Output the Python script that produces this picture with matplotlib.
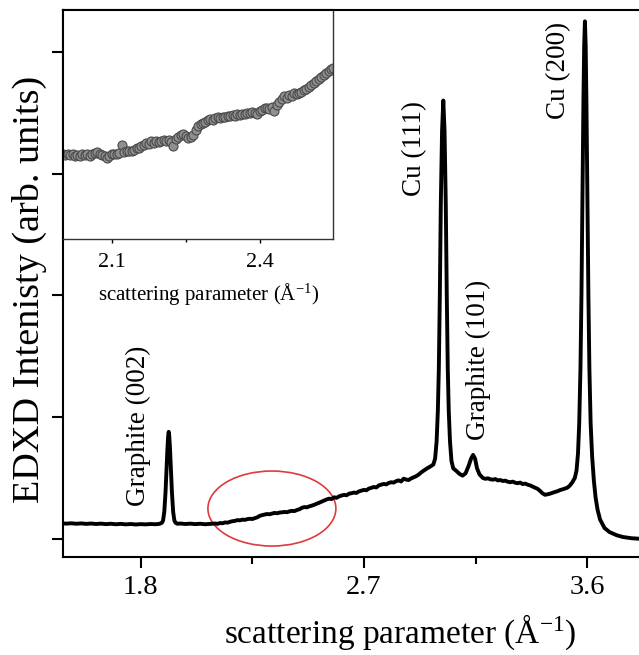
import numpy as np
import matplotlib.pyplot as plt
from matplotlib.patches import Ellipse

plt.rcParams["font.family"] = ["Liberation Serif", "DejaVu Serif"]
plt.rcParams["mathtext.fontset"] = "custom"
plt.rcParams["mathtext.rm"] = "Liberation Serif"
plt.rcParams["mathtext.it"] = "Liberation Serif:italic"

# main EDXD spectrum (scattering parameter in 1/A, intensity in arb. units)
q = [
    1.486, 1.50, 1.52, 1.54, 1.56, 1.58, 1.60, 1.62, 1.64, 1.66, 1.68, 1.70,
    1.72, 1.74, 1.76, 1.78, 1.80, 1.82, 1.84, 1.86, 1.875, 1.885, 1.890,
    1.895, 1.900, 1.904, 1.908, 1.911, 1.913, 1.915, 1.918, 1.922, 1.926,
    1.931, 1.936, 1.941, 1.948, 1.96, 1.98, 2.00, 2.02, 2.04, 2.06, 2.08,
    2.10, 2.11, 2.12, 2.13, 2.14, 2.15, 2.16, 2.17, 2.18, 2.19, 2.20, 2.21,
    2.22, 2.23, 2.24, 2.25, 2.26, 2.27, 2.28, 2.29, 2.30, 2.31, 2.32, 2.33,
    2.34, 2.35, 2.36, 2.37, 2.38, 2.39, 2.40, 2.41, 2.42, 2.43, 2.44, 2.45,
    2.46, 2.47, 2.48, 2.49, 2.50, 2.51, 2.52, 2.53, 2.54, 2.55, 2.56, 2.57,
    2.58, 2.59, 2.60, 2.61, 2.62, 2.63, 2.64, 2.65, 2.66, 2.67, 2.68, 2.69,
    2.70, 2.71, 2.72, 2.73, 2.74, 2.75, 2.76, 2.77, 2.78, 2.79, 2.80, 2.81,
    2.82, 2.83, 2.84, 2.85, 2.86, 2.87, 2.88, 2.89, 2.90, 2.91, 2.92, 2.93,
    2.94, 2.955, 2.97, 2.980, 2.987, 2.993, 2.998, 3.002, 3.006, 3.010,
    3.015, 3.020, 3.025, 3.030, 3.034, 3.038, 3.042, 3.047, 3.053, 3.060,
    3.072, 3.085, 3.098, 3.110, 3.122, 3.132, 3.140, 3.148, 3.156, 3.166,
    3.18, 3.19, 3.20, 3.21, 3.22, 3.23, 3.24, 3.25, 3.26, 3.27, 3.28, 3.29,
    3.30, 3.31, 3.32, 3.33, 3.34, 3.35, 3.36, 3.37, 3.38, 3.39, 3.40, 3.41,
    3.42, 3.43, 3.44, 3.45, 3.46, 3.47, 3.48, 3.49, 3.50, 3.51, 3.52, 3.53,
    3.54, 3.550, 3.557, 3.563, 3.568, 3.573, 3.577, 3.581, 3.585, 3.588,
    3.591, 3.594, 3.597, 3.601, 3.605, 3.609, 3.614, 3.620, 3.627, 3.634,
    3.642, 3.652, 3.67, 3.69, 3.72, 3.745, 3.78, 3.81,
]
intensity = [
    0.128, 0.126, 0.129, 0.125, 0.128, 0.124, 0.127, 0.123, 0.126, 0.122,
    0.125, 0.121, 0.124, 0.120, 0.123, 0.119, 0.122, 0.120, 0.123, 0.121,
    0.124, 0.132, 0.150, 0.22, 0.38, 0.56, 0.75, 0.85, 0.88, 0.85, 0.75,
    0.56, 0.38, 0.22, 0.150, 0.132, 0.125, 0.127, 0.123, 0.126, 0.122,
    0.125, 0.121, 0.124,
    0.127, 0.124, 0.131, 0.129, 0.136, 0.134, 0.141, 0.146, 0.149, 0.155,
    0.153, 0.159, 0.157, 0.163, 0.166, 0.164, 0.171, 0.178, 0.190, 0.196,
    0.201, 0.205, 0.203, 0.209, 0.214, 0.211, 0.217, 0.219, 0.222, 0.220,
    0.227, 0.231, 0.229, 0.238, 0.244, 0.256, 0.262, 0.260, 0.268, 0.274,
    0.281, 0.290, 0.298, 0.307, 0.316, 0.325, 0.331, 0.328, 0.342, 0.338,
    0.350, 0.357, 0.362, 0.359, 0.372, 0.376, 0.381, 0.378, 0.391, 0.397,
    0.403, 0.400, 0.414, 0.420, 0.427, 0.423, 0.440, 0.446, 0.452, 0.448,
    0.460, 0.466, 0.463, 0.475, 0.481, 0.472, 0.495, 0.488, 0.484, 0.497,
    0.506, 0.515, 0.528, 0.545, 0.560,
    0.580, 0.598, 0.612, 0.66, 0.80, 1.05, 1.40, 2.00, 2.75, 3.35, 3.60,
    3.35, 2.75, 2.00, 1.40, 1.05, 0.80, 0.64, 0.58, 0.56, 0.535, 0.52, 0.54,
    0.60, 0.66, 0.69, 0.66, 0.58, 0.53,
    0.500, 0.494, 0.498, 0.490, 0.487, 0.492, 0.481, 0.484, 0.476, 0.479,
    0.470, 0.466, 0.471, 0.462, 0.458, 0.463, 0.451, 0.455, 0.446, 0.440,
    0.430, 0.421, 0.412, 0.395, 0.375, 0.363, 0.367, 0.372, 0.379, 0.386,
    0.392, 0.401, 0.407, 0.414, 0.421, 0.438, 0.465,
    0.50, 0.56, 0.70, 0.95, 1.40, 2.00, 2.80, 3.60, 4.05, 4.25, 4.05, 3.60,
    2.80, 2.00, 1.40, 0.95, 0.68, 0.48, 0.34, 0.24, 0.16, 0.090, 0.057,
    0.030, 0.016, 0.006, 0.002,
]

# inset: zoom of the low-q background, sampled every 0.005 1/A
q_inset = np.arange(111) * 0.005 + 2.0
i_inset = [
    0.126, 0.123, 0.125, 0.122, 0.124, 0.121, 0.123, 0.121, 0.124, 0.122,
    0.125, 0.121, 0.124, 0.127, 0.129, 0.126, 0.122, 0.120, 0.116, 0.121,
    0.124, 0.126, 0.124, 0.128, 0.146, 0.129, 0.131, 0.133, 0.131, 0.135,
    0.138, 0.140, 0.143, 0.146, 0.150, 0.148, 0.154, 0.151, 0.156, 0.153,
    0.155, 0.158, 0.154, 0.157, 0.152, 0.144, 0.160, 0.164, 0.168, 0.172,
    0.166, 0.163, 0.165, 0.168, 0.180, 0.190, 0.195, 0.198, 0.200, 0.203,
    0.206, 0.205, 0.209, 0.210, 0.209, 0.212, 0.211, 0.214, 0.213, 0.215,
    0.214, 0.217, 0.216, 0.218, 0.219, 0.221, 0.220, 0.223, 0.221, 0.219,
    0.224, 0.228, 0.231, 0.233, 0.230, 0.235, 0.226, 0.238, 0.245, 0.252,
    0.261, 0.256, 0.263, 0.261, 0.266, 0.264, 0.268, 0.270, 0.273, 0.277,
    0.281, 0.286, 0.291, 0.295, 0.300, 0.304, 0.309, 0.313, 0.318, 0.323,
    0.325,
]

peak_labels = ["Graphite (002)", "Cu (111)", "Graphite (101)", "Cu (200)"]
label_q = [1.789, 2.906, 3.162, 3.483]
label_i = [0.93, 3.21, 1.47, 3.85]

fig = plt.figure(figsize=(6.39, 6.55), dpi=100)
ax = fig.add_axes([0.0981, 0.1496, 0.9019, 0.8351])
ax.plot(q, intensity, color="black", lw=2.8, solid_joinstyle="round")

for txt, x, y in zip(peak_labels, label_q, label_i):
    ax.text(x, y, txt, rotation=90, ha="center", va="center", fontsize=19.5)

# red ellipse marking the region shown in the inset
ax.add_patch(Ellipse((2.329, 0.25), width=0.516, height=0.616,
                     fill=False, edgecolor="#e03a3a", lw=1.2))

ax.set_xlim(1.4855, 3.809)
ax.set_ylim(-0.148, 4.343)
ax.set_xticks([1.8, 2.7, 3.6])
ax.set_xticks([2.25, 3.15], minor=True)
ax.set_yticks([0, 1, 2, 3, 4])
ax.set_yticklabels([])
ax.tick_params(which="major", direction="out", length=8, width=1.5,
               labelsize=20.5, pad=5)
ax.tick_params(which="minor", direction="out", length=5, width=1.5)
ax.spines["right"].set_visible(False)
for s in ["left", "bottom", "top"]:
    ax.spines[s].set_linewidth(1.5)

ax.set_xlabel("scattering parameter (Å$^{-1}$)", fontsize=24)
ax.xaxis.set_label_coords(0.585, -0.101)
ax.set_ylabel("EDXD Intenisty (arb. units)", fontsize=27.5)
ax.yaxis.set_label_coords(-0.028, 0.49)

# inset
axin = fig.add_axes([0.0981, 0.6351, 0.423, 0.3496])
axin.plot(q_inset, i_inset, "o", ms=6.5, mfc="#8f8f8f", mec="#4a4a4a",
          mew=0.8)
axin.set_xlim(2.0, 2.549)
axin.set_ylim(-0.073, 0.460)
axin.set_xticks([2.1, 2.4])
axin.set_xticks([2.25], minor=True)
axin.tick_params(left=False, labelleft=False)
axin.tick_params(axis="x", which="major", direction="out", length=3,
                 width=1.0, labelsize=16, pad=7)
axin.tick_params(axis="x", which="minor", direction="out", length=2,
                 width=1.0)
for s in ["right", "bottom"]:
    axin.spines[s].set_linewidth(1.0)
    axin.spines[s].set_color("#333333")
for s in ["left", "top"]:
    axin.spines[s].set_linewidth(1.5)
axin.set_xlabel("scattering parameter (Å$^{-1}$)", fontsize=15)
axin.xaxis.set_label_coords(0.54, -0.185)

fig.savefig("out.png", dpi=100)
